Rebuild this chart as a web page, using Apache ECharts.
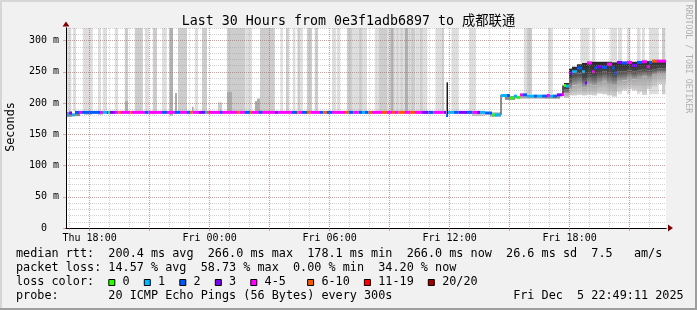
<!DOCTYPE html>
<html><head><meta charset="utf-8">
<script src="https://cdn.jsdelivr.net/npm/echarts@6/dist/echarts.min.js"></script>
<style>html,body{margin:0;padding:0;background:#f1f1f1}#c{width:697px;height:310px}</style>
</head><body><div id="c"></div>
<script>
// ---------- data (x = hours since Thu 00:00, y = milliseconds) ----------
const X_MIN = 16.8197, X_MAX = 46.8197;   // Thu 16:49:11 .. Fri 22:49:11
const Y_MIN = 0, Y_MAX = 320;
const hourTicks = [17,18,19,20,21,22,23,24,25,26,27,28,29,30,31,32,33,34,35,36,37,38,39,40,41,42,43,44,45,46];
const majorHourTicks = [18,21,24,27,30,33,36,39,42,45];
const labelHours = [18,24,30,36,42];
const labelTexts = ['Thu 18:00','Fri 00:00','Fri 06:00','Fri 12:00','Fri 18:00'];
const yMajor = [0,50,100,150,200,250,300];
const yMajorTexts = ['0  ','50 m','100 m','150 m','200 m','250 m','300 m'];

const lossColors = ['#26ff00','#00b8ff','#0059ff','#7e00ff','#ff00ff','#ff5500','#ff0000','#a10000'];
const lossLabels = ['0','1','2','3','4-5','6-10','11-19','20/20'];

// loss bars (lost pings): [startH, endH, bottom ms, shade 0=light 1=mid 2=dark]
const lossBars = [
 [16.82,17.09,187,0],[17.17,17.32,187,0],[17.66,18.16,187,0],[18.42,18.57,187,0],[18.66,18.87,187,0],
 [19.26,19.42,187,0],[19.76,19.92,187,1],[20.26,20.66,187,1],[20.77,20.96,187,0],[21.16,21.37,187,1],
 [21.62,21.86,187,0],[21.99,22.17,180,2],[22.42,22.87,187,1],[23.26,23.42,187,0],[23.62,23.87,187,1],
 [24.87,25.79,187,1],[25.79,26.12,187,0],[26.52,27.26,187,1],[27.54,27.66,187,0],[27.82,27.96,187,1],
 [28.16,28.29,187,0],[28.39,28.54,187,1],[28.54,28.66,187,0],[28.87,29.12,187,1],[29.26,29.42,187,1],
 [30.12,30.32,187,0],[30.36,30.54,187,0],[30.87,31.12,187,1],[31.12,31.46,187,0],[31.46,31.62,187,1],
 [31.62,31.87,187,0],[32.26,32.46,187,0],[32.46,32.87,187,1],[32.87,33.04,187,0],[33.04,33.21,187,2],
 [33.21,33.34,187,0],[33.34,33.42,187,1],[33.42,33.54,187,0],[33.54,33.66,187,1],[33.66,33.76,187,0],
 [33.76,33.92,187,2],[33.92,34.07,187,0],[34.07,34.29,187,1],[34.29,34.51,187,0],[34.51,34.66,187,1],
 [34.66,34.89,187,0],[35.29,35.62,187,0],[35.62,35.72,187,1],[36.09,36.46,187,0],[36.99,37.32,187,0],
 [39.71,39.87,214,0],[39.87,40.12,214,1],[40.92,41.16,214,0],[42.54,42.96,214,0],[43.12,43.29,214,0],
 [44.04,44.37,214,0],[44.42,44.62,214,0],[44.87,45.04,214,0],[45.37,45.54,214,0],[45.62,45.76,214,0],
 [45.99,46.46,214,0],[46.62,46.79,214,1]
];

// smoke spikes/blocks: [startH, endH, low ms, high ms, shade 0..4 light->black]
const smokeBlocks = [
 [16.82,17.12,178,186,2],[17.27,17.52,179,185,2],[17.72,18.12,181,186,0],[18.42,18.67,181,186,0],
 [19.77,19.92,186,203,1],[21.12,21.32,182,186,0],[22.02,22.17,182,221,1],[22.27,22.37,186,216,1],
 [23.12,23.20,186,194,1],[24.42,24.62,186,201,0],[24.87,25.12,186,218,1],[26.27,26.37,186,203,1],
 [26.37,26.52,186,207,1],[35.845,35.92,178,233,4],[37.12,37.77,179,185,0],[38.02,38.57,178,185,1],
 [38.545,38.595,181,213,4],[38.77,39.27,205,211,2],[39.27,40.02,207,211,1],[40.02,40.77,207,211,1],
 [40.77,41.52,207,211,2],[41.62,41.72,211,228,3]
];

// smoke of the last hours: [startH, endH, min, lower-mid, lower-dark, max] (ms)
const smokeBands = [
 [41.72,41.97,208,215,222,232],[41.97,42.12,212,222,238,255],[42.12,42.37,212,228,245,258],
 [42.37,42.62,213,230,247,262],[42.62,42.87,212,225,240,264],[42.87,43.12,213,230,245,266],
 [43.12,43.37,212,228,243,266],[43.37,43.62,215,232,248,266],[43.62,43.87,214,235,250,266],
 [43.87,44.12,212,230,248,266],[44.12,44.37,210,228,245,265],[44.37,44.62,218,235,250,266],
 [44.62,44.87,220,236,250,266],[44.87,45.12,222,240,252,266],[45.12,45.37,220,238,250,266],
 [45.37,45.62,218,240,252,267],[45.62,45.87,213,242,253,267],[45.87,46.12,222,240,252,267],
 [46.12,46.37,226,245,254,268],[46.37,46.82,230,248,255,268]
];

// median rtt: [startH, endH, median ms, loss class index]
const medianRuns = [
 [16.82,16.97,181,1],[16.97,17.12,184,3],[17.12,17.27,181,1],[17.27,17.47,185,2],[17.47,17.62,185,4],
 [17.62,18.52,185,2],[18.52,18.67,185,4],[18.67,18.87,185,1],[18.87,18.95,185,2],[18.95,19.02,185,0],
 [19.02,19.27,185,3],[19.27,19.45,185,4],[19.45,19.57,185,5],[19.57,20.04,185,4],[20.04,20.12,185,5],
 [20.12,20.77,185,4],[20.77,20.95,185,2],[20.95,21.62,185,4],[21.62,21.87,185,2],[21.87,22.27,185,4],
 [22.27,22.52,185,2],[22.52,22.87,185,4],[22.87,23.02,185,2],[23.02,23.15,185,5],[23.15,23.47,185,4],
 [23.47,23.77,185,3],[23.77,23.87,185,1],[23.87,23.97,185,5],[23.97,24.52,185,4],[24.52,24.62,185,2],
 [24.62,25.37,185,4],[25.37,25.49,185,5],[25.49,25.77,185,4],[25.77,26.02,185,2],[26.02,26.12,185,5],
 [26.12,26.47,185,4],[26.47,26.62,185,2],[26.62,27.27,185,4],[27.27,27.45,185,3],[27.45,28.12,185,4],
 [28.12,28.37,185,2],[28.37,28.445,185,5],[28.445,28.62,185,4],[28.62,28.87,185,2],[28.87,29.04,185,5],
 [29.04,29.52,185,4],[29.52,29.70,185,2],[29.70,29.87,185,5],[29.87,30.12,185,2],[30.12,30.77,185,4],
 [30.77,30.95,185,5],[30.95,31.20,185,2],[31.20,31.45,185,4],[31.45,31.62,185,2],[31.62,31.77,185,1],
 [31.77,31.95,185,2],[31.95,32.12,185,5],[32.12,32.62,185,4],[32.62,32.87,185,5],[32.87,33.12,185,4],
 [33.12,33.27,185,5],[33.27,33.45,185,4],[33.45,33.77,185,5],[33.77,34.02,185,4],[34.02,34.27,185,5],
 [34.27,34.62,185,4],[34.62,34.95,185,3],[34.95,35.20,185,2],[35.20,35.70,185,4],[35.70,35.82,185,3],
 [35.82,35.92,180,2],[35.92,36.20,185,1],[36.20,36.45,185,2],[36.45,36.87,185,3],[36.87,37.15,185,2],
 [37.15,37.37,185,4],[37.37,37.52,185,3],[37.52,37.77,185,1],[37.77,38.12,184,2],[38.12,38.27,181,0],
 [38.27,38.57,181,1],
 [38.57,38.87,212,1],[38.87,39.02,212,2],[39.02,39.21,208,0],[39.21,39.37,211,1],[39.37,39.52,209,0],
 [39.52,39.67,213,4],[39.67,39.87,213,2],[39.87,40.22,211,1],[40.22,40.37,211,2],[40.37,40.62,211,1],
 [40.62,40.87,211,2],[40.87,41.02,212,4],[41.02,41.17,211,1],[41.17,41.37,211,2],[41.37,41.62,213,3],
 [41.62,41.72,214,4],
 [41.72,41.82,228,0],[41.82,41.97,227,1],[41.97,42.12,248,3],[42.12,42.37,250,1],[42.37,42.62,256,2],
 [42.62,42.77,250,1],[42.77,42.87,232,3],[42.87,43.12,264,4],[43.12,43.25,250,4],[43.25,43.37,256,2],
 [43.37,43.62,258,3],[43.62,43.87,257,2],[43.87,44.12,262,4],[44.12,44.25,256,2],[44.25,44.37,248,2],
 [44.37,44.62,265,3],[44.62,44.87,264,2],[44.87,45.12,265,4],[45.12,45.37,260,3],[45.37,45.62,265,2],
 [45.62,45.87,266,4],[45.87,46.00,258,4],[46.00,46.12,265,2],[46.12,46.37,267,5],[46.37,46.82,267,4]
];

const titleText = 'Last 30 Hours from 0e3f1adb6897 to 成都联通';
const yAxisTitle = 'Seconds';
const sideText = 'RRDTOOL / TOBI OETIKER';
const legendRows = [
 'median rtt:  200.4 ms avg  266.0 ms max  178.1 ms min  266.0 ms now  26.6 ms sd  7.5   am/s',
 'packet loss: 14.57 % avg  58.73 % max  0.00 % min  34.20 % now',
 'loss color:    0    1    2    3    4-5     6-10    11-19    20/20',
 'probe:       20 ICMP Echo Pings (56 Bytes) every 300s                 Fri Dec  5 22:49:11 2025'
];
const swatchCols = [13,18,23,28,33,41,49,58];

// ---------- styles ----------
const MONO = "'DejaVu Sans Mono', 'Noto Sans CJK SC', monospace";
const barShades = ['#dedede','#cdcdcd','#b0b0b0'];
const smokeShades = ['#cbcbcb','#acacac','#8a8a8a','#555555','#1a1a1a'];
const bandGradients = [['#a6a6a6','#d2d2d2'],['#4a4a4a','#a6a6a6'],['#262626','#4a4a4a']]; // [top colour, bottom colour]
const GRID_MINOR = 'rgba(143,143,143,0.4)';
const GRID_MAJOR = 'rgba(222,30,30,0.38)';
const ARROW = '#7f0000';
const CW = 7.1, LX = 16; // legend char width / left

function rectBetween(api, x0, x1, y0, y1, fill) {
  const a = api.coord([x0, y1]), b = api.coord([x1, y0]);
  return {type:'rect', shape:{x:a[0], y:a[1], width:b[0]-a[0], height:b[1]-a[1]}, style:{fill:fill}};
}
function grad(pair) {
  return new echarts.graphic.LinearGradient(0,0,0,1,[{offset:0,color:pair[0]},{offset:1,color:pair[1]}]);
}

const chart = echarts.init(document.getElementById('c'), null, {renderer:'canvas'});

const graphics = [
  {type:'rect', shape:{x:0,y:0,width:697,height:2}, style:{fill:'#d6d6d6'}, silent:true},
  {type:'rect', shape:{x:0,y:0,width:2,height:310}, style:{fill:'#d6d6d6'}, silent:true},
  {type:'rect', shape:{x:0,y:308,width:697,height:2}, style:{fill:'#9e9e9e'}, silent:true},
  {type:'rect', shape:{x:695,y:0,width:2,height:310}, style:{fill:'#9e9e9e'}, silent:true},
  {type:'text', x:348.5, y:22, style:{text:titleText, font:"13.3px "+MONO, fill:'#000', align:'center', verticalAlign:'middle'}},
  {type:'text', x:10.5, y:127, rotation:Math.PI/2, style:{text:yAxisTitle, font:"11.8px "+MONO, fill:'#000', align:'center', verticalAlign:'middle'}},
  {type:'text', x:688.5, y:59, rotation:-Math.PI/2, style:{text:sideText, font:"8.2px "+MONO, fill:'#b0b0b0', align:'center', verticalAlign:'middle'}}
];
legendRows.forEach((t,i)=>{
  graphics.push({type:'text', x:LX, y:254.3+14*i, style:{text:t, font:"11.8px "+MONO, fill:'#000', align:'left', verticalAlign:'middle'}});
});
swatchCols.forEach((c,i)=>{
  graphics.push({type:'rect', shape:{x:LX+CW*c+0.5, y:279.5, width:6, height:6}, style:{fill:lossColors[i], stroke:'#000', lineWidth:1}});
});

chart.setOption({
  animation:false,
  backgroundColor:'#f1f1f1',
  grid:{left:66, top:28, width:600, height:200, show:true, backgroundColor:'#ffffff', borderWidth:0, containLabel:false, outerBoundsMode:'none'},
  xAxis:[
    {type:'value', min:X_MIN, max:X_MAX, position:'bottom', z:6,
     axisLine:{show:true, onZero:false, lineStyle:{color:'#000', width:1}},
     axisTick:{show:true, customValues:hourTicks, length:2, lineStyle:{color:GRID_MINOR}},
     axisLabel:{show:true, customValues:labelHours, formatter:v=>labelTexts[labelHours.indexOf(v)] || '', fontFamily:MONO, fontSize:10, color:'#000', margin:5},
     splitLine:{show:true, lineStyle:{color:GRID_MINOR, type:[1,1], width:1}}},
    {type:'value', min:X_MIN, max:X_MAX, position:'bottom', offset:0, z:5,
     axisLine:{show:true, onZero:false, lineStyle:{color:ARROW, width:1}, symbol:['none','triangle'], symbolSize:[7,5], symbolOffset:[0,4.5]},
     axisTick:{show:true, customValues:majorHourTicks, length:3, lineStyle:{color:GRID_MAJOR}},
     axisLabel:{show:false},
     splitLine:{show:true, lineStyle:{color:GRID_MAJOR, type:[1,1], width:1}}}
  ],
  yAxis:[
    {type:'value', min:Y_MIN, max:Y_MAX, interval:10, position:'left', z:6,
     axisLine:{show:true, onZero:false, lineStyle:{color:'#000', width:1}},
     axisTick:{show:false}, axisLabel:{show:false},
     splitLine:{show:true, lineStyle:{color:GRID_MINOR, type:[1,1], width:1}}},
    {type:'value', min:Y_MIN, max:Y_MAX, position:'left', offset:0, z:5,
     axisLine:{show:true, onZero:false, lineStyle:{color:ARROW, width:1}, symbol:['none','triangle'], symbolSize:[7,5], symbolOffset:[0,4]},
     axisTick:{show:true, customValues:yMajor, length:3, lineStyle:{color:GRID_MAJOR}},
     axisLabel:{show:true, customValues:yMajor, formatter:v=>yMajorTexts[yMajor.indexOf(v)], fontFamily:MONO, fontSize:10, color:'#000', margin:7},
     splitLine:{show:true, lineStyle:{color:GRID_MAJOR, type:[1,1], width:1}}}
  ],
  graphic:{elements:graphics},
  series:[
    {type:'custom', name:'loss', xAxisIndex:0, yAxisIndex:0, clip:true, z:1, data:lossBars,
     encode:{x:[0,1], y:[2]},
     renderItem:(p,api)=>rectBetween(api, api.value(0), api.value(1), api.value(2), Y_MAX, barShades[api.value(3)])},
    {type:'custom', name:'smokeBlocks', xAxisIndex:0, yAxisIndex:0, clip:true, z:2, data:smokeBlocks,
     encode:{x:[0,1], y:[2,3]},
     renderItem:(p,api)=>rectBetween(api, api.value(0), api.value(1), api.value(2), api.value(3), smokeShades[api.value(4)])},
    {type:'custom', name:'smokeBands', xAxisIndex:0, yAxisIndex:0, clip:true, z:2, data:smokeBands,
     encode:{x:[0,1], y:[2,5]},
     renderItem:(p,api)=>{
       const h0=api.value(0), h1=api.value(1);
       return {type:'group', children:[
         rectBetween(api,h0,h1,api.value(2),api.value(3),grad(bandGradients[0])),
         rectBetween(api,h0,h1,api.value(3),api.value(4),grad(bandGradients[1])),
         rectBetween(api,h0,h1,api.value(4),api.value(5),grad(bandGradients[2]))
       ]};
     }},
    {type:'custom', name:'median', xAxisIndex:0, yAxisIndex:0, clip:true, z:3, data:medianRuns,
     encode:{x:[0,1], y:[2]},
     renderItem:(p,api)=>{
       const a = api.coord([api.value(0), api.value(2)]), b = api.coord([api.value(1), api.value(2)]);
       return {type:'rect', shape:{x:a[0], y:a[1]-1.5, width:b[0]-a[0], height:3}, style:{fill:lossColors[api.value(3)]}};
     }}
  ]
});
</script></body></html>
